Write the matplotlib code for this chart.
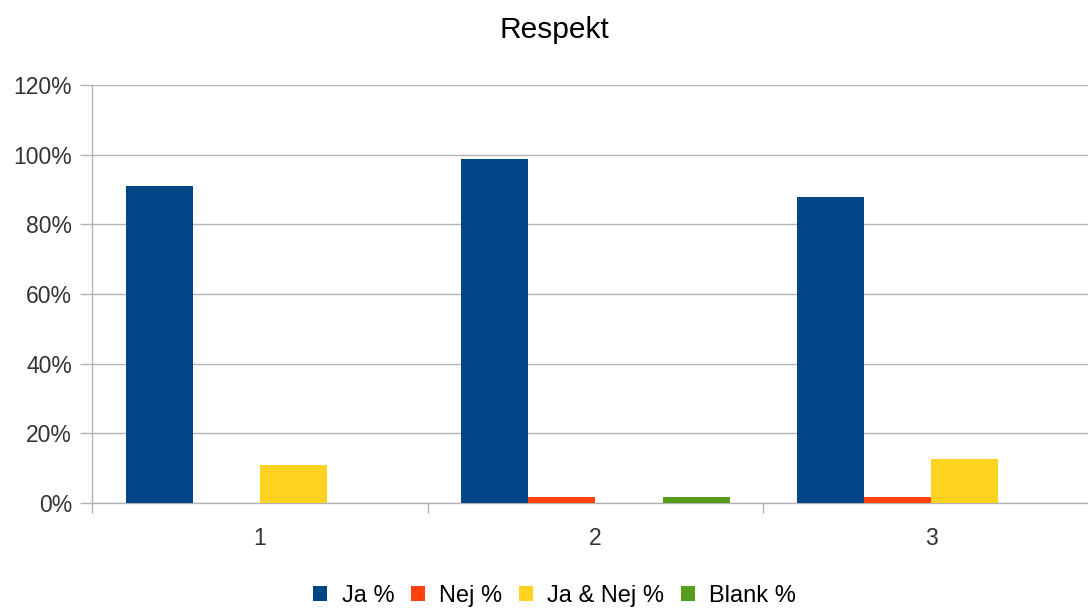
import numpy as np
import matplotlib.pyplot as plt
from matplotlib.ticker import FuncFormatter

plt.rcParams['font.family'] = ['Liberation Sans', 'DejaVu Sans']

categories = ['1', '2', '3']
series_names = ['Ja %', 'Nej %', 'Ja & Nej %', 'Blank %']
ja = [0.91, 0.988, 0.879]
nej = [0.0, 0.018, 0.018]
ja_nej = [0.109, 0.0, 0.126]
blank = [0.0, 0.018, 0.0]
colors = ['#004586', '#ff420e', '#ffd320', '#579d1c']

W, H = 1088, 608
px = 72 / 100  # points per pixel at dpi 100

fig = plt.figure(figsize=(W / 100, H / 100), dpi=100)
# plot area runs slightly past the right edge
ax = fig.add_axes([92 / W, 1 - 503 / H, (1099 - 92) / W, (503 - 85) / H])

x = np.arange(len(categories))
width = 0.2
for i, (vals, name, c) in enumerate(zip([ja, nej, ja_nej, blank], series_names, colors)):
    ax.bar(x + (i - 1.5) * width, vals, width, color=c, label=name, zorder=3)

ax.set_xlim(-0.5, 2.5)
ax.set_ylim(0, 1.2)
ax.set_yticks(np.arange(0, 1.21, 0.2))
ax.yaxis.set_major_formatter(FuncFormatter(lambda v, _: f'{v * 100:.0f}%'))
ax.grid(axis='y', color='#b3b3b3', linewidth=1, zorder=0)

# category labels centred, tick marks on the boundaries
ax.set_xticks([-0.5, 0.5, 1.5, 2.5])
ax.set_xticklabels([])
ax.set_xticks(x, minor=True)
ax.set_xticklabels(categories, minor=True)
ax.tick_params(axis='x', which='major', length=10 * px, color='#b3b3b3', width=1)
ax.tick_params(axis='x', which='minor', length=0, pad=24 * px, labelsize=16.5,
               labelcolor='#333333')
ax.tick_params(axis='y', length=12 * px, color='#b3b3b3', width=1, labelsize=16.5,
               labelcolor='#333333', pad=8 * px)

for s in ['top', 'right']:
    ax.spines[s].set_visible(False)
for s in ['left', 'bottom']:
    ax.spines[s].set_color('#b3b3b3')
    ax.spines[s].set_linewidth(1)

fig.text(554 / W, 1 - 38 / H, 'Respekt', ha='center', va='baseline', fontsize=21.5)

fig.legend(loc='center', bbox_to_anchor=(554.5 / W, 1 - 596 / H), ncol=4, frameon=False,
           fontsize=17, handlelength=0.6, handleheight=0.6, handletextpad=0.6,
           columnspacing=0.7, borderaxespad=0, borderpad=0)

fig.savefig('out.png', dpi=100)
